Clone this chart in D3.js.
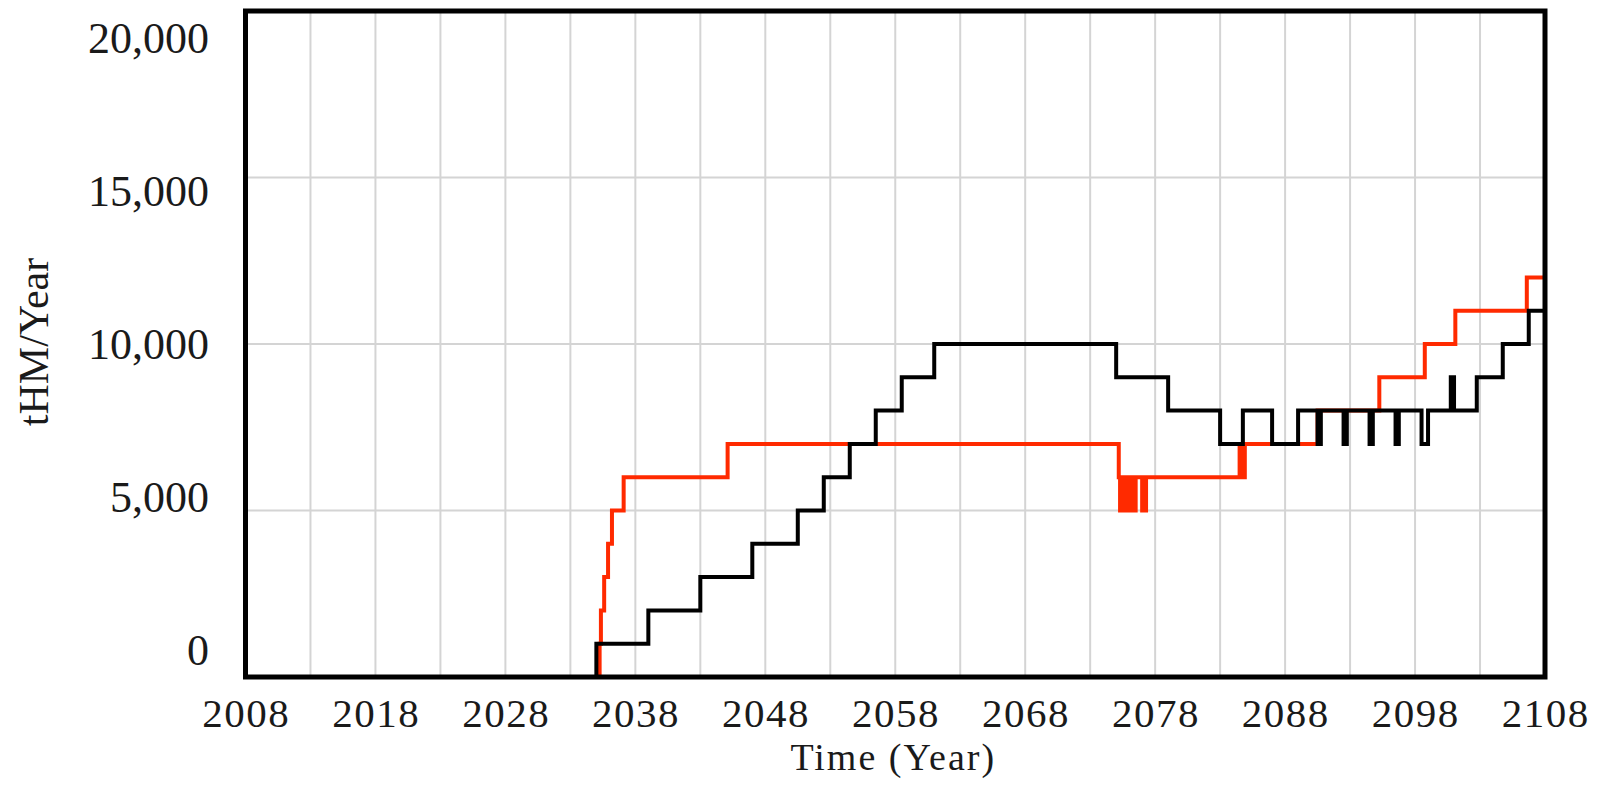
<!DOCTYPE html>
<html>
<head>
<meta charset="utf-8">
<script src="https://cdn.jsdelivr.net/npm/d3@7/dist/d3.min.js"></script>
<style>
  html, body { margin: 0; padding: 0; background: #ffffff; }
  svg { display: block; }
  text { font-family: "Liberation Serif", "Times New Roman", serif; fill: #1a1a1a; }
</style>
</head>
<body>
<svg id="chart" width="1600" height="788"></svg>
<script>
// ---- data ----
const xTickYears = [2008, 2018, 2028, 2038, 2048, 2058, 2068, 2078, 2088, 2098, 2108];
const xGridYears = [2013, 2018, 2023, 2028, 2033, 2038, 2043, 2048, 2053, 2058, 2063, 2068, 2073, 2078, 2083, 2088, 2093, 2098, 2103];
const yTickValues = [0, 5000, 10000, 15000, 20000];
const yGridValues = [5000, 10000, 15000];

// black series: step changes (time, value)
const blackTime  = [2008, 2035, 2039, 2043, 2047, 2050.5, 2052.5, 2054.5, 2056.5, 2058.5, 2061, 2075, 2079, 2083, 2084.75, 2087, 2089,
                    2090.5, 2090.75, 2092.5, 2092.75, 2094.5, 2094.75, 2096.5, 2096.75, 2098.5, 2099,
                    2100.75, 2101, 2102.75, 2104.75, 2106.75, 2108];
const blackValue = [0, 1000, 2000, 3000, 4000, 5000, 6000, 7000, 8000, 9000, 10000, 9000, 8000, 7000, 8000, 7000, 8000,
                    7000, 8000, 7000, 8000, 7000, 8000, 7000, 8000, 7000, 8000,
                    9000, 8000, 9000, 10000, 11000, 11000];

// red series: step changes (time, value)
const redTime  = [2008, 2035.25, 2035.35, 2035.6, 2035.9, 2036.2, 2037.1, 2045.1, 2075.2,
                  2075.3, 2075.45, 2075.55, 2075.7, 2075.8, 2075.95, 2076.05, 2076.2, 2076.3, 2076.5,
                  2077.0, 2077.3,
                  2084.5, 2084.6, 2084.7, 2084.8, 2084.9, 2085.2,
                  2090.5, 2095.25, 2098.75, 2101.1, 2106.6, 2108];
const redValue = [0, 1000, 2000, 3000, 4000, 5000, 6000, 7000, 6000,
                  5000, 6000, 5000, 6000, 5000, 6000, 5000, 6000, 5000, 6000,
                  5000, 6000,
                  7000, 6000, 7000, 6000, 7000, 7000,
                  8000, 9000, 10000, 11000, 12000, 12000];

// ---- layout ----
const plotL = 245.5, plotR = 1545, plotT = 11, plotB = 677;
const svg = d3.select("#chart");

const x = d3.scaleLinear().domain([2008, 2108]).range([plotL, plotR]);
const y = d3.scaleLinear().domain([0, 20000]).range([plotB, plotT]);
// tick labels in the original are spread evenly between their own anchors
const yLabel = d3.scaleLinear().domain([0, 20000]).range([665, 53]);

svg.append("rect").attr("width", 1600).attr("height", 788).attr("fill", "#fff");

// grid
svg.append("g").selectAll("line").data(xGridYears).join("line")
  .attr("x1", d => x(d)).attr("x2", d => x(d))
  .attr("y1", plotT).attr("y2", plotB)
  .attr("stroke", "#d4d4d4").attr("stroke-width", 2);
svg.append("g").selectAll("line").data(yGridValues).join("line")
  .attr("x1", plotL).attr("x2", plotR)
  .attr("y1", d => y(d)).attr("y2", d => y(d))
  .attr("stroke", "#d4d4d4").attr("stroke-width", 2);

// series
const toPts = (t, v) => t.map((d, i) => [d, v[i]]);
const line = d3.line().x(d => x(d[0])).y(d => y(d[1])).curve(d3.curveStepAfter);

svg.append("path").datum(toPts(redTime, redValue))
  .attr("d", line).attr("fill", "none")
  .attr("stroke", "#ff2a00").attr("stroke-width", 4)
  .attr("stroke-linejoin", "miter");
svg.append("path").datum(toPts(blackTime, blackValue))
  .attr("d", line).attr("fill", "none")
  .attr("stroke", "#000").attr("stroke-width", 4)
  .attr("stroke-linejoin", "miter");

// frame
svg.append("rect")
  .attr("x", plotL).attr("y", plotT)
  .attr("width", plotR - plotL).attr("height", plotB - plotT)
  .attr("fill", "none").attr("stroke", "#000").attr("stroke-width", 5);

// x tick labels
svg.append("g").selectAll("text").data(xTickYears).join("text")
  .attr("x", d => x(d) + 0.75).attr("y", 727)
  .attr("text-anchor", "middle")
  .attr("font-size", 41).attr("letter-spacing", 1.5)
  .text(d => d);

// y tick labels
svg.append("g").selectAll("text").data(yTickValues).join("text")
  .attr("x", 209).attr("y", d => yLabel(d))
  .attr("text-anchor", "end")
  .attr("font-size", 44)
  .text(d => d3.format(",")(d));

// axis titles
svg.append("text")
  .attr("x", (plotL + plotR) / 2 - 2).attr("y", 770)
  .attr("text-anchor", "middle").attr("font-size", 38).attr("letter-spacing", 2)
  .text("Time (Year)");
svg.append("text")
  .attr("transform", "translate(48,342) rotate(-90)")
  .attr("text-anchor", "middle").attr("font-size", 42)
  .text("tHM/Year");
</script>
</body>
</html>
